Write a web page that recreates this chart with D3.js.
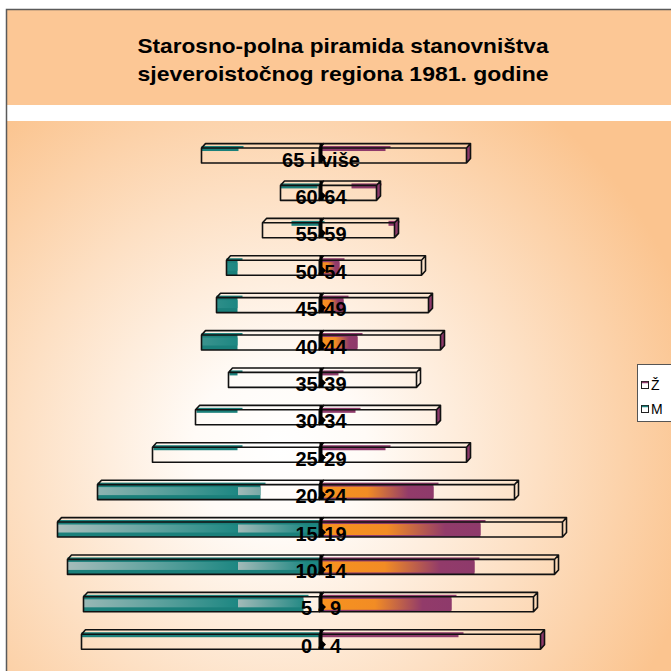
<!DOCTYPE html>
<html>
<head>
<meta charset="utf-8">
<script src="https://cdn.jsdelivr.net/npm/d3@7"></script>
<style>
  body { margin: 0; background: #fff; }
  svg { display: block; font-family: "Liberation Sans", Arial, sans-serif; }
</style>
</head>
<body>
<div id="chart"></div>
<script>
// age groups, top to bottom as shown
const ages = ["65 i više", "60-64", "55-59", "50-54", "45-49", "40-44", "35-39",
  "30-34", "25-29", "20-24", "15-19", "10-14", "5 - 9", "0 - 4"];

// M (left) - total bar and the coloured part, in thousands
const mTotal = [11.8, 3.9, 5.7, 9.3, 10.3, 11.8, 9.1, 12.4, 16.7, 22.2, 26.2, 25.2, 23.6, 23.8];
const mFillFrom = [8.1, 0.2, 0, 8.2, 8.2, 8.2, 8.2, 8.2, 8.2, 5.9, 0, 0, 1.6, 0];
const mFillTo = [11.8, 3.9, 2.8, 9.3, 10.3, 11.8, 9.0, 12.3, 16.6, 22.2, 26.2, 25.2, 23.6, 23.8];

// Ž (right)
const zTotal = [14.7, 5.7, 7.5, 10.2, 10.9, 12.1, 9.7, 11.7, 14.7, 19.5, 24.3, 23.5, 21.4, 22.1];
const zFillFrom = [0, 3.2, 6.9, 0, 0, 0, 0, 0, 0, 0, 0, 0, 0, 0];
const zFillTo = [6.6, 5.7, 7.5, 2.0, 2.4, 3.8, 1.9, 3.6, 6.6, 11.4, 16.1, 15.5, 13.2, 13.9];

// rows where the coloured part fills the whole front face
const solidRows = ["50-54", "45-49", "40-44", "20-24", "15-19", "10-14", "5 - 9"];
// rows whose Ž bar end is shaded
const shadedEnds = ["65 i više", "60-64", "55-59", "45-49", "40-44", "30-34", "25-29", "0 - 4"];

const titleLines = ["Starosno-polna piramida stanovništva", "sjeveroistočnog regiona 1981. godine"];
const legendItems = [{ name: "Ž", color: "#8e3a6b" }, { name: "M", color: "#1b837e" }];

const width = 671, height = 671;
const center = 319.5;
const dx = 4, dy = 4.4;

const svg = d3.select("#chart").append("svg")
  .attr("width", width).attr("height", height);

const defs = svg.append("defs");

const bg = defs.append("radialGradient").attr("id", "bg")
  .attr("gradientUnits", "userSpaceOnUse")
  .attr("cx", 280).attr("cy", 450).attr("r", 430);
bg.append("stop").attr("offset", 0).attr("stop-color", "#ffffff");
bg.append("stop").attr("offset", 0.2).attr("stop-color", "#fffbf7");
bg.append("stop").attr("offset", 0.6).attr("stop-color", "#fde0c4");
bg.append("stop").attr("offset", 1).attr("stop-color", "#fbc48f");

const x = d3.scaleLinear().domain([-30, 30]).range([center - 300, center + 300]);
const y = d3.scaleBand().domain(ages).range([136.8, 660.4])
  .paddingInner(0.6).paddingOuter(0.3);
const bh = y.bandwidth();

// teal gradient (user space, breaks at 8.2)
const tg = defs.append("linearGradient").attr("id", "teal")
  .attr("gradientUnits", "userSpaceOnUse")
  .attr("x1", x(-26.2)).attr("x2", x(0)).attr("y1", 0).attr("y2", 0);
const brk = (x(-8.2) - x(-26.2)) / (x(0) - x(-26.2));
[[0, "#adbfbd"], [brk * 0.55, "#5fa29e"], [brk, "#1d8782"], [brk + 0.001, "#a3bab8"],
 [brk + (1 - brk) * 0.85, "#1d8782"], [1, "#1d8782"]].forEach(s =>
  tg.append("stop").attr("offset", s[0]).attr("stop-color", s[1]));

const og = defs.append("linearGradient").attr("id", "orange");
[[0, "#f7931f"], [0.42, "#f28c24"], [0.78, "#923b6a"], [1, "#8e3a6b"]].forEach(s =>
  og.append("stop").attr("offset", s[0]).attr("stop-color", s[1]));

// panels
svg.append("rect").attr("x", 6.5).attr("y", 9).attr("width", 671).attr("height", 96)
  .attr("fill", "#fcc795");
svg.append("rect").attr("x", 6.5).attr("y", 121).attr("width", 671).attr("height", 560)
  .attr("fill", "url(#bg)");
svg.append("path").attr("d", "M6.5,671V9.5H671")
  .attr("fill", "none").attr("stroke", "#5a5a5a").attr("stroke-width", 1.5);

svg.append("g").selectAll("text").data(titleLines).join("text")
  .attr("x", 343).attr("y", (d, i) => 53 + i * 28)
  .attr("text-anchor", "middle")
  .attr("font-size", 21).attr("font-weight", "bold")
  .attr("textLength", 411).attr("lengthAdjust", "spacingAndGlyphs")
  .text(d => d);

const rows = ages.map((a, i) => ({
  age: a, solid: solidRows.includes(a), shaded: shadedEnds.includes(a),
  mTotal: mTotal[i], mFrom: mFillFrom[i], mTo: mFillTo[i],
  zTotal: zTotal[i], zFrom: zFillFrom[i], zTo: zFillTo[i]
}));

const rowG = svg.append("g").selectAll("g").data(rows).join("g")
  .attr("transform", d => `translate(0,${y(d.age)})`);

// coloured parts
function fillPart(g, x0, x1, solid, dark, grad, band) {
  g.append("rect").attr("x", x0).attr("y", -2).attr("width", x1 - x0 + 5).attr("height", 2)
    .attr("fill", dark);
  if (solid) {
    g.append("rect").attr("x", x0).attr("y", 0).attr("width", x1 - x0).attr("height", bh)
      .attr("fill", dark);
    g.append("rect").attr("x", x0).attr("y", band[0]).attr("width", x1 - x0)
      .attr("height", band[1] - band[0]).attr("fill", grad);
  } else {
    g.append("rect").attr("x", x0).attr("y", 0).attr("width", x1 - x0).attr("height", 3)
      .attr("fill", dark);
  }
}

rowG.each(function (d) {
  const g = d3.select(this);
  fillPart(g, x(-d.mTo), x(-d.mFrom), d.solid, "#1b807b", "url(#teal)", [2.5, 10.5]);
  fillPart(g, x(d.zFrom), x(d.zTo), d.solid, "#8e3a6b", "url(#orange)", [2, 13]);
});

// shaded end caps of Ž bars
rowG.filter(d => d.shaded).append("path")
  .attr("d", d => {
    const x1 = x(d.zTotal);
    return `M${x1},0L${x1 + dx},${-dy}V${bh - dy}L${x1},${bh}Z`;
  })
  .attr("fill", "#8e3a6b");

// outlined 3d boxes
function box(x0, x1, side) {
  let p = `M${x0},0H${x1}V${bh}H${x0}Z` +
    `M${x0},0L${x0 + dx},${-dy}H${x1 + dx}L${x1},0`;
  if (side) p += `M${x1 + dx},${-dy}V${bh - dy}L${x1},${bh}`;
  return p;
}

rowG.append("path")
  .attr("d", d => box(x(-d.mTotal), x(0), false))
  .attr("fill", "none").attr("stroke", "#111").attr("stroke-width", 1.6)
  .attr("stroke-linejoin", "round");
rowG.append("path")
  .attr("d", d => box(x(0), x(d.zTotal), true))
  .attr("fill", "none").attr("stroke", "#111").attr("stroke-width", 1.6)
  .attr("stroke-linejoin", "round");

// axis marker at the centre
rowG.append("path")
  .attr("d", `M${center},${-dy}h3V${bh * 0.45}l3.5,3.5l-3.5,3.5V${bh}h-3Z`)
  .attr("fill", "#000");

rowG.append("text")
  .attr("x", center + 1.5).attr("y", 18.5)
  .attr("text-anchor", "middle")
  .attr("font-size", 20).attr("font-weight", "bold")
  .text(d => d.age);

// legend
const leg = svg.append("g").attr("transform", "translate(637,364)");
leg.append("rect").attr("x", 0.5).attr("y", 0.5).attr("width", 40).attr("height", 57)
  .attr("fill", "#fff").attr("stroke", "#555");
const li = leg.selectAll("g.item").data(legendItems).join("g").attr("class", "item")
  .attr("transform", (d, i) => `translate(0,${17 + i * 24})`);
li.append("rect").attr("x", 4.5).attr("y", 0.5).attr("width", 7).attr("height", 7)
  .attr("fill", "#fff").attr("stroke", "#222");
li.append("line").attr("x1", 5).attr("x2", 11).attr("y1", 1.5).attr("y2", 1.5)
  .attr("stroke", d => d.color).attr("stroke-width", 1.5);
li.append("text").attr("x", 14).attr("y", 8.5).attr("font-size", 14)
  .text(d => d.name);
</script>
</body>
</html>
